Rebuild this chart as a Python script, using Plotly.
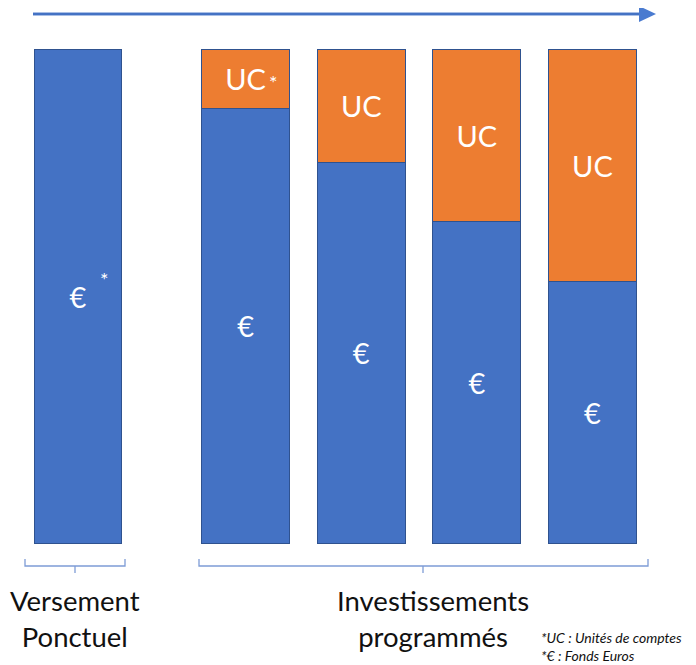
import plotly.graph_objects as go

# The page body has an 8px default margin, so the figure is shifted by 8px.
OFF = 8
W, H = 696 - OFF, 665 - OFF

# ---- data ----
bar_positions = [0, 1.45, 2.45, 3.45, 4.45]
euro_share = [100, 88, 77, 65, 53]
uc_share = [0, 12, 23, 35, 47]
euro_labels = ["€", "€", "€", "€", "€"]
uc_labels = ["", "UC", "UC", "UC", "UC"]
group_labels = ["Versement<br>Ponctuel", "Investissements<br>programmés"]
footnotes = ["*UC : Unités de comptes", "*€ : Fonds Euros"]

BLUE = "#4472C4"
ORANGE = "#ED7D31"
EDGE = "#2F528F"
FONT = "Lato"

def px(x):
    return (x - OFF) / W

def py(y):
    return 1 - (y - OFF) / H

fig = go.Figure()
fig.add_trace(go.Bar(
    x=bar_positions, y=euro_share, width=0.76,
    marker=dict(color=BLUE, line=dict(color=EDGE, width=1)),
    text=euro_labels, textposition="inside", insidetextanchor="middle",
    textfont=dict(family=FONT, size=30, color="white"),
    hoverinfo="skip",
))
fig.add_trace(go.Bar(
    x=bar_positions, y=uc_share, width=0.76,
    marker=dict(color=ORANGE, line=dict(color=EDGE, width=1)),
    text=uc_labels, textposition="inside", insidetextanchor="middle",
    textfont=dict(family=FONT, size=29, color="white"),
    hoverinfo="skip",
))

shapes = []
# timeline arrow
shapes.append(dict(type="line", xref="paper", yref="paper",
                   x0=px(33), x1=px(641), y0=py(14), y1=py(14),
                   line=dict(color="#A9BFE6", width=4)))
shapes.append(dict(type="line", xref="paper", yref="paper",
                   x0=px(33), x1=px(641), y0=py(14), y1=py(14),
                   line=dict(color="#4472C4", width=2)))
shapes.append(dict(type="path", xref="paper", yref="paper",
                   path=f"M {px(639)} {py(6)} L {px(656)} {py(14)} L {px(639)} {py(22)} Z",
                   fillcolor="#4A7BD0", line=dict(width=0)))

# brackets
def bracket(x0, x1, xc):
    return [
        dict(type="path", xref="paper", yref="paper",
             path=(f"M {px(x0)} {py(559)} L {px(x0)} {py(566)} L {px(x1)} {py(566)} "
                   f"L {px(x1)} {py(559)}"),
             line=dict(color="#7E9CD6", width=1.3)),
        dict(type="line", xref="paper", yref="paper",
             x0=px(xc), x1=px(xc), y0=py(566), y1=py(573),
             line=dict(color="#7E9CD6", width=1.3)),
    ]

shapes += bracket(25, 125, 75)
shapes += bracket(199, 648, 423)

annotations = [
    dict(x=px(75), y=py(618), xref="paper", yref="paper", text=group_labels[0],
         showarrow=False, font=dict(family=FONT, size=27.5, color="#111111"),
         xanchor="center", yanchor="middle", align="center"),
    dict(x=px(433), y=py(618), xref="paper", yref="paper", text=group_labels[1],
         showarrow=False, font=dict(family=FONT, size=27.5, color="#111111"),
         xanchor="center", yanchor="middle", align="center"),
    dict(x=px(540), y=py(646.5), xref="paper", yref="paper",
         text="<br>".join(f"<i>{t}</i>" for t in footnotes),
         showarrow=False, font=dict(family=FONT, size=14, color="#111111"),
         xanchor="left", yanchor="middle", align="left", borderpad=0),
    # asterisks
    dict(x=px(98), y=py(279), xref="paper", yref="paper", text="*",
         showarrow=False, font=dict(family=FONT, size=20, color="white")),
    dict(x=px(273), y=py(68), xref="paper", yref="paper", text="*",
         showarrow=False, font=dict(family=FONT, size=20, color="white")),
]

# axis ranges so that bar values map onto the reference pixel layout
unit = 115.6
cx0 = 78 - OFF
x_left = -cx0 / unit
x_right = (W - cx0) / unit
y_per = (543 - 49) / 100.0
y_bottom = -(665 - 543) / y_per
y_top = 100 + (49 - OFF) / y_per

fig.update_layout(
    width=W, height=H, barmode="stack", showlegend=False,
    margin=dict(l=0, r=0, t=0, b=0),
    plot_bgcolor="white", paper_bgcolor="white",
    xaxis=dict(range=[x_left, x_right], visible=False, fixedrange=True),
    yaxis=dict(range=[y_bottom, y_top], visible=False, fixedrange=True),
    shapes=shapes, annotations=annotations,
    uniformtext=dict(minsize=8, mode="show"),
)

fig.write_html("out.html")
